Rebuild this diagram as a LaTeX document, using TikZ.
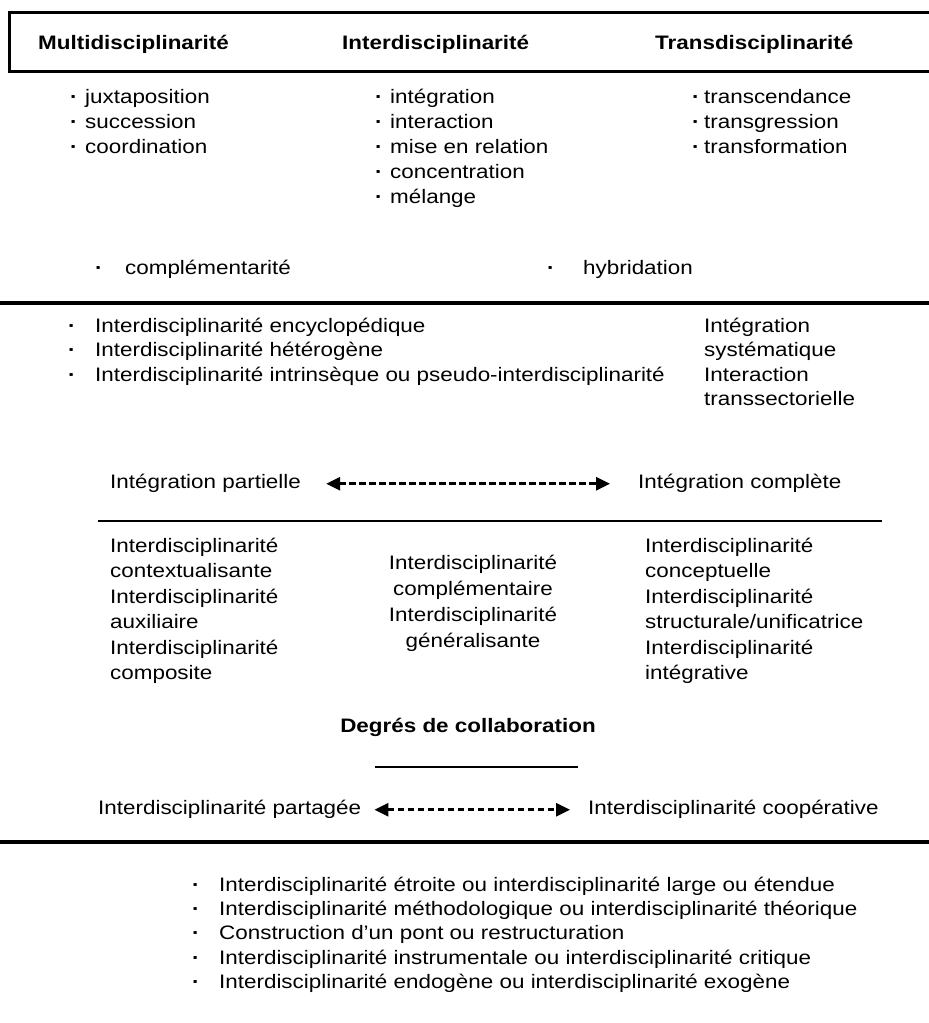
\documentclass[tikz,border=0pt]{standalone}
\usepackage{fontspec}
\setmainfont{Liberation Sans}[FakeStretch=1.15]
\usetikzlibrary{matrix,arrows.meta}
\newcommand{\puce}{{\bfseries ·}}
\tikzset{
	texte/.style={font=\fontsize{19.5}{25}\selectfont, inner sep=0pt, text height=14pt, text depth=5.5pt},
	titre/.style={texte, font=\fontsize{19.5}{25}\selectfont\bfseries, anchor=base west},
	ligne/.style={texte, anchor=base west},
	liste/.style={matrix of nodes, inner sep=0pt, row sep=#1, column sep=9pt,
		nodes={texte, anchor=base west}},
	liste/.default=5.5pt,
	regle/.style={line width=#1},
	regle/.default=4pt,
	fleche/.style={dash pattern=on 6.5pt off 3.5pt, line width=2.6pt,
		{Triangle[length=14pt,width=13pt]}-{Triangle[length=14pt,width=13pt]}}
}
\begin{document}
\begin{tikzpicture}[x=1pt,y=-1pt]
	\useasboundingbox[fill=white] (0,0) rectangle (929,1023);
	\draw[regle=3pt] (935,12) -| (9,71) -- (935,71);
	\node[titre] (multi) at (38,49) {Multidisciplinarité};
	\node[titre] (inter) at (342,49) {Interdisciplinarité};
	\node[titre] (trans) at (655,49) {Transdisciplinarité};
	
	\matrix (lmulti) [liste, column sep=7.5pt, anchor=north west] at (70,89)
	{
		\puce & juxtaposition \\
		\puce & succession \\
		\puce & coordination \\
	};
	\matrix (linter) [liste, column sep=7.5pt, anchor=north west] at (375,89)
	{
		\puce & intégration \\
		\puce & interaction \\
		\puce & mise en relation \\
		\puce & concentration \\
		\puce & mélange \\
	};
	\matrix (ltrans) [liste, column sep=4.5pt, anchor=north west] at (692,89)
	{
		\puce & transcendance \\
		\puce & transgression \\
		\puce & transformation \\
	};
	\matrix (lcompl) [liste, column sep=22.5pt, anchor=north west] at (95,260)
	{
		\puce & complémentarité \\
	};
	\matrix (lhybr) [liste, column sep=28.5pt, anchor=north west] at (547,260)
	{
		\puce & hybridation \\
	};
	
	\draw[regle] (0,303) -- (929,303);
	
	\matrix (lencyc) [liste=5pt, column sep=19.5pt, anchor=north west] at (68,318)
	{
		\puce & Interdisciplinarité encyclopédique \\
		\puce & Interdisciplinarité hétérogène \\
		\puce & Interdisciplinarité intrinsèque ou pseudo-interdisciplinarité \\
	};
	\matrix (lsyst) [liste=5pt, anchor=north west] at (704,318)
	{
		Intégration \\
		systématique \\
		Interaction \\
		transsectorielle \\
	};
	
	\node[ligne] (partielle) at (110,488) {Intégration partielle};
	\node[ligne] (complete) at (638,488) {Intégration complète};
	\path[fleche, shorten <=25pt, shorten >=28pt] (partielle) edge (complete);
	
	\draw[regle=2.5pt] (98,521) -- (882,521);
	
	\matrix (lgauche) [liste=6pt, anchor=north west] at (110,538)
	{
		Interdisciplinarité \\
		contextualisante \\
		Interdisciplinarité \\
		auxiliaire \\
		Interdisciplinarité \\
		composite \\
	};
	\matrix (lcentre) [liste=6.5pt, nodes={anchor=base}, anchor=north] at (473,555)
	{
		Interdisciplinarité \\
		complémentaire \\
		Interdisciplinarité \\
		généralisante \\
	};
	\matrix (ldroite) [liste=6pt, anchor=north west] at (645,538)
	{
		Interdisciplinarité \\
		conceptuelle \\
		Interdisciplinarité \\
		structurale/unificatrice \\
		Interdisciplinarité \\
		intégrative \\
	};
	
	\node[titre, anchor=base] (degres) at (468,732) {Degrés de collaboration};
	\draw[regle=2.5pt] (375,767) -- (578,767);
	
	\node[ligne] (partagee) at (98,814) {Interdisciplinarité partagée};
	\node[ligne] (cooperative) at (588,814) {Interdisciplinarité coopérative};
	\path[fleche, shorten <=13pt, shorten >=18pt] (partagee) edge (cooperative);
	
	\draw[regle] (0,842) -- (929,842);
	
	\matrix (lbas) [liste=4.8pt, column sep=19.5pt, anchor=north west] at (192,877)
	{
		\puce & Interdisciplinarité étroite ou interdisciplinarité large ou étendue \\
		\puce & Interdisciplinarité méthodologique ou interdisciplinarité théorique \\
		\puce & Construction d’un pont ou restructuration \\
		\puce & Interdisciplinarité instrumentale ou interdisciplinarité critique \\
		\puce & Interdisciplinarité endogène ou interdisciplinarité exogène \\
	};
\end{tikzpicture}
\end{document}
